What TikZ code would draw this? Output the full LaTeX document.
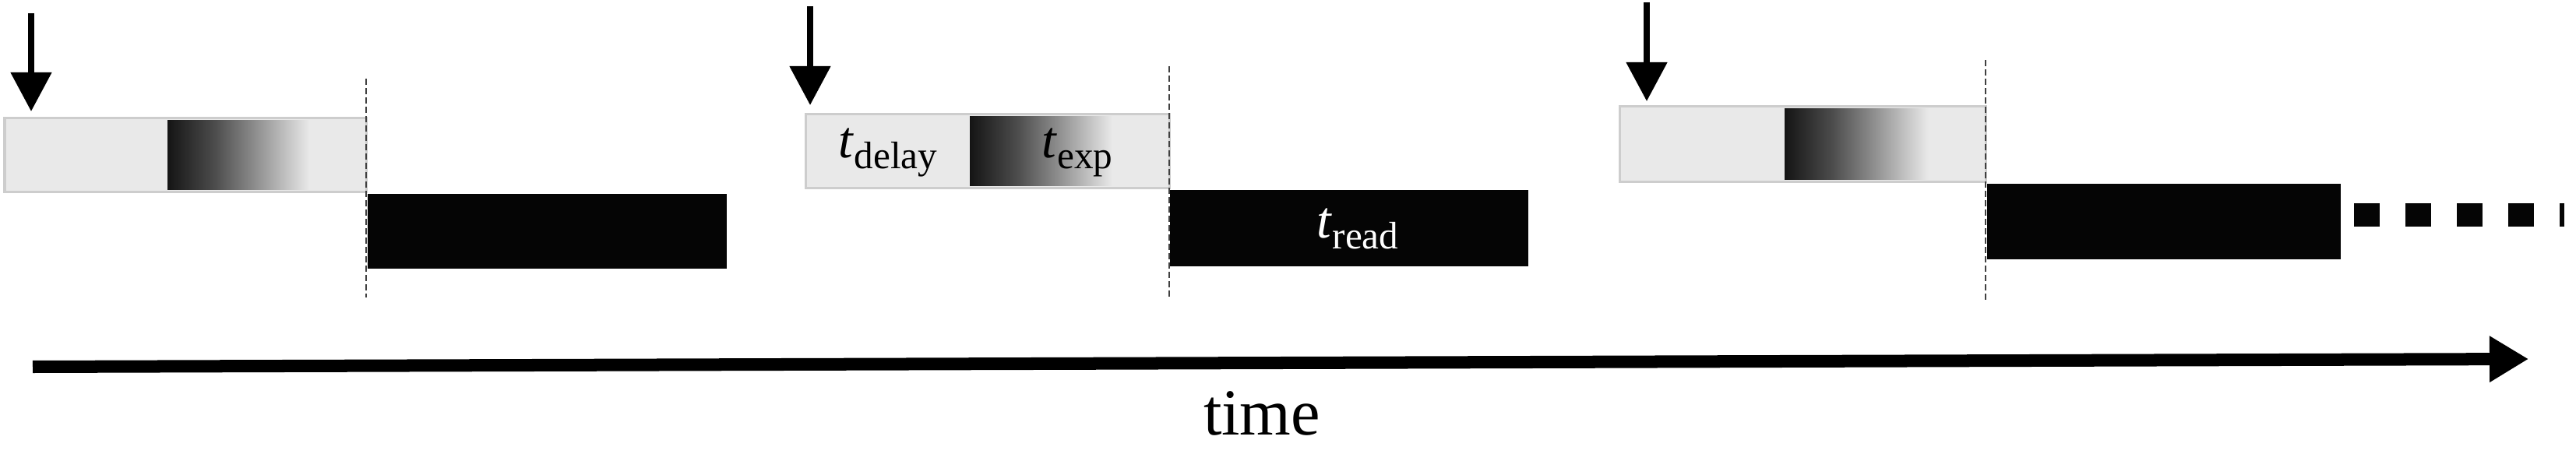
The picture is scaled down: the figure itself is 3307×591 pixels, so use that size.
\documentclass[tikz,border=0pt]{standalone}
\usepackage{fontspec}
\setmainfont{Liberation Serif}
\usetikzlibrary{arrows.meta}
\definecolor{lightfill}{HTML}{E9E9E9}
\definecolor{lightedge}{HTML}{CDCDCD}
\definecolor{readfill}{HTML}{050505}
\pgfdeclarehorizontalshading{expgrad}{100bp}{color(0bp)=(black); color(25bp)=(black!92); color(37bp)=(black!70); color(47bp)=(gray!90); color(61bp)=(lightfill); color(100bp)=(lightfill)}
\newcommand{\lab}[2]{\textit{#1}\raisebox{-0.2em}{\fontsize{14}{14}\selectfont #2}}
\begin{document}
\begin{tikzpicture}[x=0.01cm,y=-0.01cm,
  lightbox/.style={draw=lightedge, line width=0.3mm, fill=lightfill, anchor=north west, inner sep=0pt, outer sep=0pt},
  gradbox/.style={shading=expgrad, anchor=north west, inner sep=0pt, outer sep=0pt},
  readbox/.style={fill=readfill, anchor=north west, inner sep=0pt, outer sep=0pt},
  sep/.style={draw=black!75, line width=0.15mm, dash pattern=on 0.8mm off 0.4mm},
  trig/.style={draw=black, line width=0.8mm, -{Triangle[length=5mm,width=5.1mm]}},
  timeax/.style={draw=black, line width=1.6mm, -{Triangle[length=5mm,width=5.6mm]}},
  lbl/.style={inner sep=0pt, outer sep=0pt, font=\fontsize{19}{19}\selectfont},
  timelbl/.style={inner sep=0pt, outer sep=0pt, font=\fontsize{24}{24}\selectfont}
]
\fill[white] (0,0) rectangle (3307,591);
\useasboundingbox (0,0) rectangle (3307,591);
% ---- block 1 ----
\node[lightbox, minimum width=46.4mm, minimum height=9.4mm] (L1) at (6,152) {};
\node[gradbox, minimum width=25.3mm, minimum height=8.8mm] (G1) at (215,155) {};
\node[readbox, minimum width=46.1mm, minimum height=9.6mm] (R1) at (472,249) {};
\coordinate (s1a) at (470,101);
\coordinate (s1b) at (470,382);
\draw[sep] (s1a) -- (s1b);
\coordinate (a1) at (40,17);
\coordinate (a1e) at (40,143);
\draw[trig] (a1) -- (a1e);
% ---- block 2 ----
\node[lightbox, minimum width=46.7mm, minimum height=9.4mm] (L2) at (1034,147) {};
\node[gradbox, minimum width=25.4mm, minimum height=8.8mm] (G2) at (1245,150) {};
\node[readbox, minimum width=46.0mm, minimum height=9.8mm] (R2) at (1502,244) {};
\coordinate (s2a) at (1501,85);
\coordinate (s2b) at (1501,384);
\draw[sep] (s2a) -- (s2b);
\coordinate (a2) at (1040,8);
\coordinate (a2e) at (1040,135);
\draw[trig] (a2) -- (a2e);
\node[lbl] (tdelay) at (1140,196) {\lab{t}{delay}};
\node[lbl] (texp) at (1383,196) {\lab{t}{exp}};
\node[lbl, text=white] (tread) at (1743,294) {\lab{t}{read}};
% ---- block 3 ----
\node[lightbox, minimum width=47.0mm, minimum height=9.6mm] (L3) at (2079,137) {};
\node[gradbox, minimum width=25.6mm, minimum height=9.0mm] (G3) at (2291,140) {};
\node[readbox, minimum width=45.4mm, minimum height=9.7mm] (R3) at (2551,236) {};
\coordinate (s3a) at (2549,77);
\coordinate (s3b) at (2549,386);
\draw[sep] (s3a) -- (s3b);
\coordinate (a3) at (2114,3);
\coordinate (a3e) at (2114,130);
\draw[trig] (a3) -- (a3e);
% continuation dashes
\coordinate (c1) at (3022,276);
\coordinate (c2) at (3292,276);
\draw[readfill, line width=2.9mm, dash pattern=on 3.3mm off 3.3mm] (c1) -- (c2);
% ---- time axis ----
\coordinate (t0) at (42,471);
\coordinate (t1) at (3246,461);
\draw[timeax] (t0) -- (t1);
\node[timelbl, anchor=base] (time) at (1620,558) {time};
\end{tikzpicture}
\end{document}
